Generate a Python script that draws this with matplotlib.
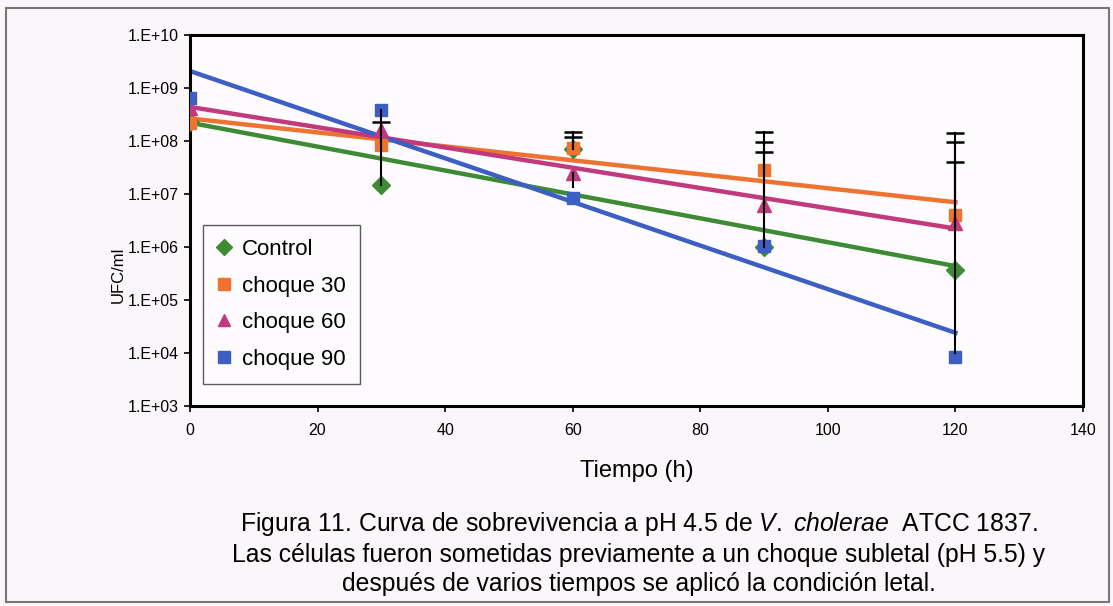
import matplotlib
matplotlib.use("Agg")
import matplotlib.pyplot as plt
import numpy as np
from matplotlib.patches import Rectangle
from matplotlib.ticker import FixedLocator, FuncFormatter

plt.rcParams['font.family'] = ['Liberation Sans', 'DejaVu Sans']
plt.rcParams['mathtext.fontset'] = 'custom'
plt.rcParams['mathtext.rm'] = 'Liberation Sans'
plt.rcParams['mathtext.it'] = 'Liberation Sans:italic'

# tiempo de exposicion a pH 4.5 (h)
tiempo = [0, 30, 60, 90, 120]

# UFC/ml por tratamiento
control = [2.3e8, 1.5e7, 7.2e7, 1.0e6, 3.7e5]
choque30 = [2.2e8, 8.3e7, 7.4e7, 2.8e7, 4.0e6]
choque60 = [4.2e8, 1.6e8, 2.5e7, 6.2e6, 2.9e6]
choque90 = [6.5e8, 3.8e8, 8.4e6, 1.05e6, 8.3e3]

# extremo superior (con tope) e inferior (sin tope) de las barras de error
control_sup = [None, None, 1.2e8, 6.2e7, 4.0e7]
control_inf = [None, None, None, None, 1.0e4]
choque30_sup = [None, 2.3e8, 1.5e8, 1.5e8, 1.4e8]
choque30_inf = [None, None, None, None, None]
choque60_sup = [None, None, None, 9.6e7, 9.6e7]
choque60_inf = [None, None, 1.35e7, None, None]
choque90_sup = [None, None, None, None, None]
choque90_inf = [None, 1.5e7, None, None, None]

series = [
    ("Control", control, control_sup, control_inf, "#3f8b35", "D", 9),
    ("choque 30", choque30, choque30_sup, choque30_inf, "#ee7330", "s", 9),
    ("choque 60", choque60, choque60_sup, choque60_inf, "#c23a7e", "^", 9.5),
    ("choque 90", choque90, choque90_sup, choque90_inf, "#3d5fc4", "s", 9),
]

fig = plt.figure(figsize=(11.13, 6.06), dpi=100)
fig.patch.set_facecolor("#faf6fa")
ax = fig.add_axes([0.1707, 0.33, 0.8023, 0.6122])
ax.set_facecolor("#fdfbfd")

t = np.array(tiempo, dtype=float)
tt = np.linspace(0, 120, 50)
handles = []
for nombre, vals, sup, inf, color, mk, ms in series:
    v = np.array(vals)
    # linea de tendencia exponencial
    b, a = np.polyfit(t, np.log10(v), 1)
    ax.plot(tt, 10 ** (a + b * tt), color=color, lw=3.2, zorder=2)

    h, = ax.plot(t, v, linestyle="none", marker=mk, ms=ms, color=color,
                 markeredgecolor=color, zorder=4, label=nombre)
    handles.append(h)

    # barras de error
    for i in range(len(t)):
        if sup[i] is not None:
            ax.plot([t[i], t[i]], [v[i], sup[i]], color="black", lw=1.5, zorder=5)
            ax.plot(t[i], sup[i], marker="_", ms=13, mew=1.8, color="black",
                    zorder=5)
        if inf[i] is not None:
            ax.plot([t[i], t[i]], [inf[i], v[i]], color="black", lw=1.5, zorder=5)

ax.set_yscale("log")
ax.set_ylim(1e3, 1e10)
ax.set_xlim(0, 140)
ax.yaxis.set_major_locator(FixedLocator([10.0 ** k for k in range(3, 11)]))
ax.yaxis.set_minor_locator(FixedLocator([]))
ax.yaxis.set_major_formatter(FuncFormatter(lambda y, p: "1.E+%02d" % round(np.log10(y))))
ax.set_xticks(np.arange(0, 141, 20))

for s in ax.spines.values():
    s.set_linewidth(2.2)
    s.set_color("black")
ax.tick_params(axis="both", direction="out", length=4, width=1.2,
               labelsize=11.5, colors="black")
ax.tick_params(axis="y", pad=4)
ax.tick_params(axis="x", pad=8)

ax.set_ylabel("UFC/ml", fontsize=12)
ax.yaxis.set_label_coords(-0.0717, 0.353)
ax.set_xlabel("Tiempo (h)", fontsize=17, labelpad=16)

leg = ax.legend(handles=handles, loc="lower left", bbox_to_anchor=(0.0146, 0.059),
                fontsize=16, frameon=True, fancybox=False, handlelength=0.6,
                handletextpad=0.5, labelspacing=0.7, borderpad=0.65,
                borderaxespad=0, markerscale=0.95)
leg.get_frame().set_edgecolor("#333333")
leg.get_frame().set_linewidth(1.0)
leg.get_frame().set_facecolor("#fdfbfd")

caption = ("Figura 11. Curva de sobrevivencia a pH 4.5 de $\\it{V.\\ cholerae}$  ATCC 1837.\n"
           "Las células fueron sometidas previamente a un choque subletal (pH 5.5) y\n"
           "después de varios tiempos se aplicó la condición letal.")
fig.text(0.574, 0.016, caption, ha="center", va="bottom", fontsize=17.8,
         linespacing=1.27)

fig.add_artist(Rectangle((0.005, 0.006), 0.991, 0.981, transform=fig.transFigure,
                         fill=False, edgecolor="#777777", linewidth=1.5))

fig.savefig("out.png", dpi=100, facecolor=fig.get_facecolor())
